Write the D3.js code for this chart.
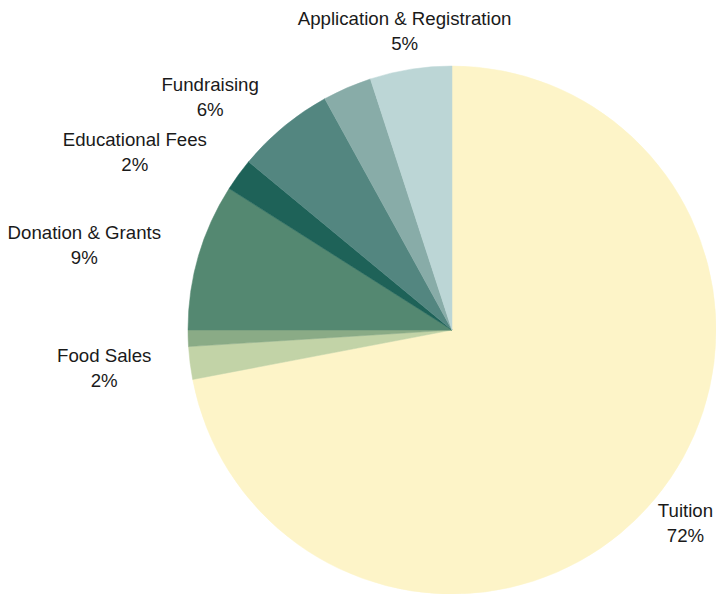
<!DOCTYPE html>
<html>
<head>
<meta charset="utf-8">
<script src="https://cdn.jsdelivr.net/npm/d3@7"></script>
<style>
  body { margin: 0; background: #fff; }
  svg { display: block; }
</style>
</head>
<body>
<svg id="drawing_region"></svg>
<script>
// slices, clockwise from 12 o'clock
var categories = ["Tuition", "Food Sales", "Other Income", "Donation & Grants",
                  "Educational Fees", "Fundraising", "Miscellaneous", "Application & Registration"];
var values = [72, 2, 1, 9, 2, 6, 3, 5];
var colors = ["#fdf4c8", "#c2d3a7", "#8aab86", "#548871",
              "#1e6258", "#538680", "#88aca8", "#bcd6d6"];
var showLabel = [true, true, false, true, true, true, false, true];

var config = {
    width: 716,
    height: 594,
    cx: 452,
    cy: 330,
    radius: 264,
    labelRadius: 303,
    fontSize: 18.67,
    lineHeight: 25
};

var svg = d3.select('#drawing_region')
    .attr('width', config.width)
    .attr('height', config.height);

var data = categories.map((c, i) => ({ name: c, value: values[i], color: colors[i], label: showLabel[i] }));
var total = d3.sum(values);

var pie = d3.pie().sort(null).value(d => d.value);
var arc = d3.arc().innerRadius(0).outerRadius(config.radius);

var chart = svg.append('g')
    .attr('transform', `translate(${config.cx}, ${config.cy})`);

var arcs = pie(data);

chart.selectAll('path')
    .data(arcs)
    .enter()
    .append('path')
    .attr('d', arc)
    .attr('fill', d => d.data.color)
    .attr('stroke', d => d.data.color)
    .attr('stroke-width', 0.5);

var ascent = 0.905 * config.fontSize, descent = 0.212 * config.fontSize;

var labels = chart.selectAll('text.label')
    .data(arcs.filter(d => d.data.label))
    .enter()
    .append('text')
    .attr('class', 'label')
    .attr('text-anchor', 'middle')
    .attr('font-family', '"Liberation Sans", Arial, sans-serif')
    .attr('font-size', config.fontSize + 'px')
    .attr('fill', '#1a1a1a');

// label box centred on the mid angle; pushed sideways when it would cover the pie
labels.each(function(d) {
    var t = d3.select(this);
    var line1 = t.append('tspan').text(d.data.name);
    var line2 = t.append('tspan').text(Math.round(d.data.value / total * 100) + '%');
    var w = Math.max(line1.node().getComputedTextLength(), line2.node().getComputedTextLength());
    var h = ascent + config.lineHeight + descent;

    var mid = (d.startAngle + d.endAngle) / 2;
    var px = Math.sin(mid) * config.labelRadius;
    var py = -Math.cos(mid) * config.labelRadius;

    var x = px, top = py - h / 2;
    var nx = Math.max(x - w / 2, Math.min(0, x + w / 2));
    var ny = Math.max(top, Math.min(0, top + h));
    if (Math.hypot(nx, ny) < config.radius) {
        x = px < 0 ? px - w / 2 : px + w / 2;
    }

    line1.attr('x', x).attr('y', top + ascent);
    line2.attr('x', x).attr('y', top + ascent + config.lineHeight);
});
</script>
</body>
</html>
